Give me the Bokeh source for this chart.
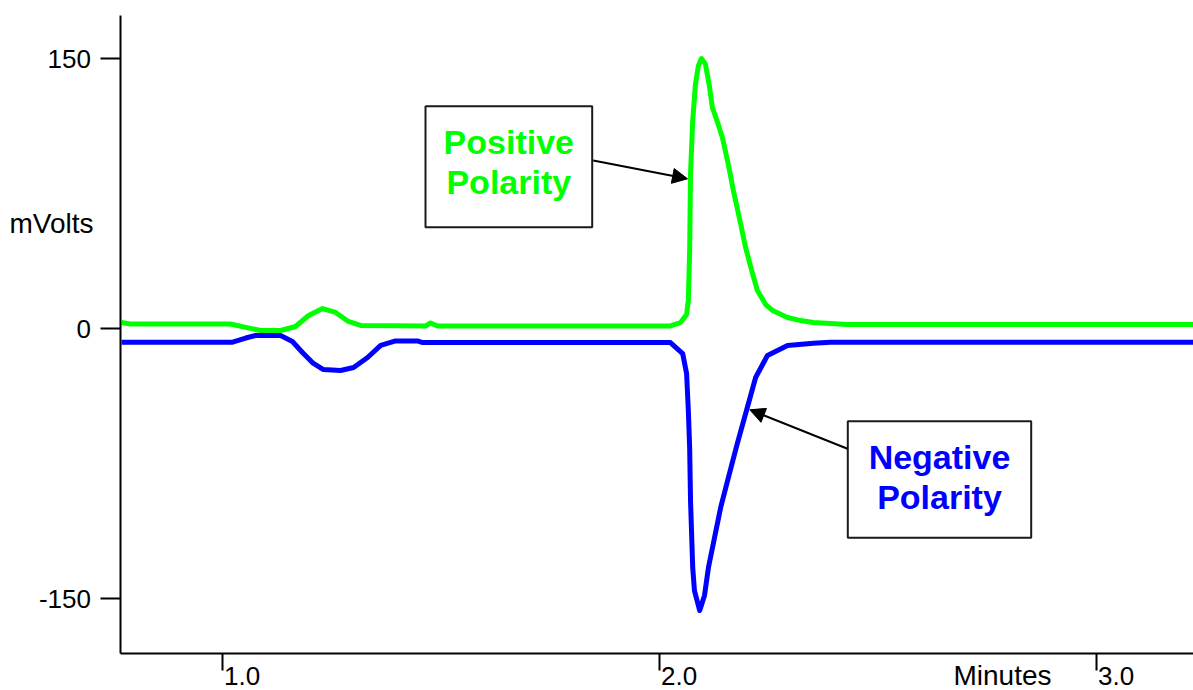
from bokeh.plotting import figure
from bokeh.models import (Range1d, FixedTicker, NumeralTickFormatter, CustomJSTickFormatter,
                          Label, BoxAnnotation, Arrow, NormalHead)
from bokeh.embed import file_html
from bokeh.resources import INLINE

# ---- data (minutes, mVolts) ----
pos_minutes = [0.769, 0.789, 1.018, 1.053, 1.087, 1.133, 1.167, 1.197, 1.229, 1.259,
               1.288, 1.316, 1.465, 1.476, 1.492, 2.025, 2.048, 2.062, 2.066, 2.069,
               2.071, 2.076, 2.082, 2.089, 2.096, 2.105, 2.114, 2.121, 2.133, 2.144,
               2.158, 2.169, 2.185, 2.197, 2.211, 2.224, 2.243, 2.259, 2.293, 2.323,
               2.352, 2.430, 3.222]
pos_mvolts = [3.3, 2.5, 2.5, 0.6, -1.1, -1.1, 1.1, 7.2, 11.1, 8.9,
              3.9, 1.7, 1.4, 3.1, 1.4, 1.4, 3.3, 7.8, 15.6, 43.3,
              86.0, 115.6, 135.0, 146.0, 150.0, 147.0, 135.0, 122.8, 114.4, 106.0,
              90.6, 76.7, 58.9, 45.0, 32.2, 21.1, 13.3, 10.0, 6.1, 4.4,
              3.3, 2.2, 2.2]

neg_minutes = [0.769, 1.023, 1.053, 1.076, 1.133, 1.160, 1.183, 1.208, 1.231, 1.270,
               1.300, 1.332, 1.362, 1.396, 1.446, 1.458, 2.025, 2.053, 2.062, 2.066,
               2.069, 2.071, 2.076, 2.080, 2.092, 2.103, 2.112, 2.126, 2.140, 2.156,
               2.178, 2.201, 2.220, 2.247, 2.293, 2.352, 2.391, 3.222]
neg_mvolts = [-7.6, -7.6, -5.3, -3.9, -3.9, -7.2, -13.3, -19.4, -22.8, -23.3,
              -21.7, -16.1, -9.4, -6.9, -6.9, -7.8, -7.8, -13.9, -25.0, -45.6,
              -66.1, -95.6, -132.8, -145.6, -156.7, -148.3, -132.8, -116.1, -99.4, -84.4,
              -63.9, -43.9, -27.2, -15.0, -9.4, -8.2, -7.6, -7.6]

x_ticks = [1.0, 2.0, 3.0]
x_tick_labels = ["1.0", "2.0", "3.0"]
y_ticks = [-150, 0, 150]

GREEN = "#00FF00"
BLUE = "#0000FF"
FONT = "Liberation Sans"

W, H = 1193, 690
# plot scale: 437 px per minute (1.0 at px 222), 1.8 px per mV (0 at px 328)
X0 = 1.0 - 222 / 437
X1 = 1.0 + (W - 222) / 437
Y1 = 328 / 1.8
Y0 = (328 - H) / 1.8


def dx(px):
    return X0 + px * (X1 - X0) / W


def dy(py):
    return Y1 - py * (Y1 - Y0) / H


p = figure(width=W, height=H, output_backend="svg", toolbar_location=None,
           x_range=Range1d(X0, X1), y_range=Range1d(Y0, Y1),
           min_border_left=0, min_border_right=0, min_border_top=0,
           min_border_bottom=0)
p.outline_line_color = None
p.grid.visible = False
p.background_fill_color = "white"
p.border_fill_color = "white"

AX_X = dx(119.5)   # position of the vertical axis
AX_Y = dy(653)     # position of the horizontal axis

for ax in (p.xaxis[0], p.yaxis[0]):
    ax.axis_line_width = 2
    ax.axis_line_color = "black"
    ax.major_tick_line_width = 2
    ax.major_tick_line_color = "black"
    ax.major_tick_in = 0
    ax.minor_tick_line_color = None
    ax.major_label_text_font = FONT
    ax.major_label_text_font_size = "26px"
    ax.major_label_text_color = "black"

xa = p.xaxis[0]
xa.fixed_location = AX_Y
xa.bounds = (AX_X, X1)
xa.ticker = FixedTicker(ticks=x_ticks)
xa.formatter = CustomJSTickFormatter(code="return ''")
xa.major_tick_out = 17
xa.major_label_standoff = 0

ya = p.yaxis[0]
ya.fixed_location = AX_X
ya.bounds = (AX_Y, dy(15))
ya.ticker = FixedTicker(ticks=y_ticks)
ya.formatter = NumeralTickFormatter(format="0")
ya.major_tick_out = 20
ya.major_label_standoff = 9

p.line(neg_minutes, neg_mvolts, line_color=BLUE, line_width=5, line_join="round")
p.line(pos_minutes, pos_mvolts, line_color=GREEN, line_width=5, line_join="round")

# x tick labels, set just to the right of each tick as in the original
for t, lab in zip(x_ticks, x_tick_labels):
    p.add_layout(Label(x=t + 1.5 / 437, y=dy(675), text=lab, text_font=FONT,
                       text_font_size="26px", text_align="left",
                       text_baseline="middle", text_color="black"))

# axis titles placed like the original
p.add_layout(Label(x=dx(9), y=dy(222.5), text="mVolts", text_font=FONT, text_font_size="28px",
                   text_align="left", text_baseline="middle", text_color="black"))
p.add_layout(Label(x=dx(953), y=dy(675), text="Minutes", text_font=FONT, text_font_size="28px",
                   text_align="left", text_baseline="middle", text_color="black"))

# annotation boxes
p.add_layout(BoxAnnotation(left=dx(425), right=dx(591.7), bottom=dy(226.7), top=dy(105.7),
                           fill_color="white", fill_alpha=1.0,
                           line_color="#1a1a1a", line_width=2, line_alpha=1.0))
p.add_layout(BoxAnnotation(left=dx(847.3), right=dx(1030.7), bottom=dy(537.3), top=dy(420.7),
                           fill_color="white", fill_alpha=1.0,
                           line_color="#1a1a1a", line_width=2, line_alpha=1.0))

for txt, px, py, col in [("Positive", 508.3, 141.5, GREEN), ("Polarity", 508.3, 181.5, GREEN),
                         ("Negative", 939.0, 456.0, BLUE), ("Polarity", 939.0, 496.0, BLUE)]:
    p.add_layout(Label(x=dx(px), y=dy(py), text=txt, text_font=FONT, text_font_size="34px",
                       text_font_style="bold", text_align="center", text_baseline="middle",
                       text_color=col))

p.add_layout(Arrow(end=NormalHead(size=15, fill_color="black", line_color="black"),
                   x_start=dx(592.7), y_start=dy(160), x_end=dx(687), y_end=dy(178.3),
                   line_width=2, line_color="black"))
p.add_layout(Arrow(end=NormalHead(size=15, fill_color="black", line_color="black"),
                   x_start=dx(847), y_start=dy(448.3), x_end=dx(749.3), y_end=dy(409.3),
                   line_width=2, line_color="black"))

open("out.html", "w").write(file_html(p, INLINE))
